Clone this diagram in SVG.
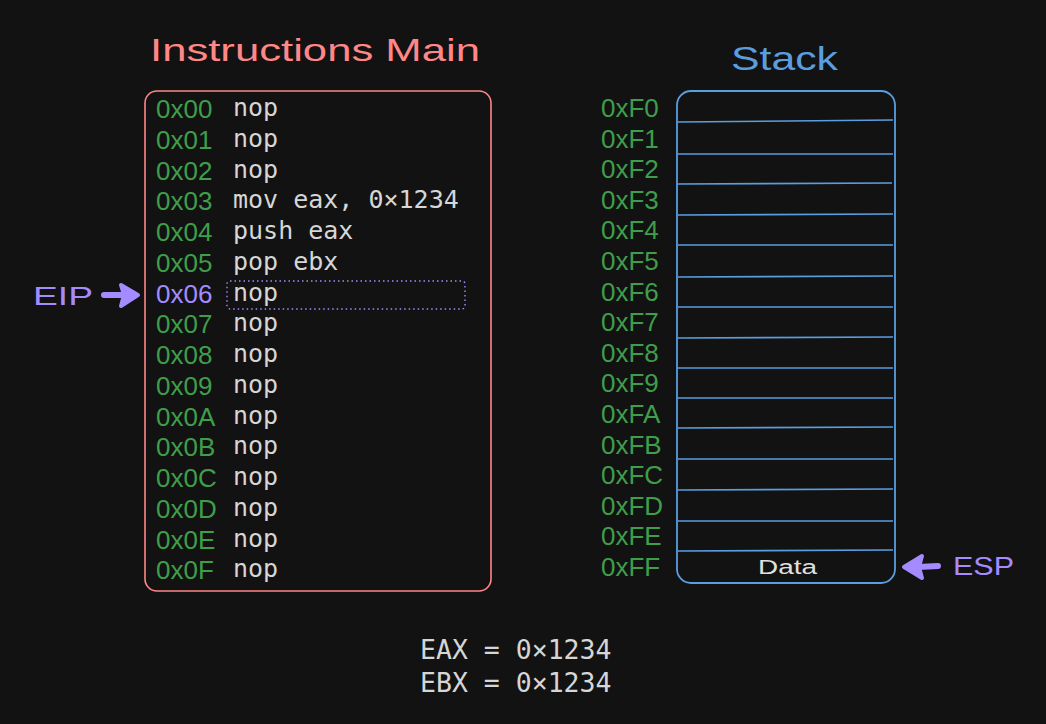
<svg xmlns="http://www.w3.org/2000/svg" width="1046" height="724" viewBox="0 0 1046 724">
<style>
.hand{font-family:"Liberation Sans","Noto Sans",sans-serif}
.mono{font-family:"DejaVu Sans Mono","Liberation Mono",monospace;fill:#d6d6d6}
.addr{font-family:"Liberation Sans","Noto Sans",sans-serif;font-size:26px;fill:#3f9e4a}
.ins{font-size:25px}
.sline{stroke:#5a9ee0;stroke-width:1.6}
.purple{fill:#a48bff}
</style>
<rect width="1046" height="724" fill="#121212"/>

<g id="title-instructions">
<text class="hand" x="150" y="61" font-size="32" fill="#ff8787" textLength="330" lengthAdjust="spacingAndGlyphs">Instructions Main</text>
</g>
<g id="title-stack">
<text class="hand" x="731" y="70" font-size="33" fill="#5a9ee0" textLength="107" lengthAdjust="spacingAndGlyphs">Stack</text>
</g>

<g id="instructions">
<rect x="145" y="91" width="346" height="500" rx="12" fill="none" stroke="#ff8787" stroke-width="1.6"/>
<rect x="227" y="281" width="238" height="28" rx="3" fill="none" stroke="#a48bff" stroke-width="1.4" stroke-dasharray="1.5 3"/>
<g class="addr">
<text x="156" y="118">0x00</text>
<text x="156" y="148.75">0x01</text>
<text x="156" y="179.5">0x02</text>
<text x="156" y="210.25">0x03</text>
<text x="156" y="241">0x04</text>
<text x="156" y="271.75">0x05</text>
<text x="156" y="302.5" fill="#a48bff">0x06</text>
<text x="156" y="333.25">0x07</text>
<text x="156" y="364">0x08</text>
<text x="156" y="394.75">0x09</text>
<text x="156" y="425.5">0x0A</text>
<text x="156" y="456.25">0x0B</text>
<text x="156" y="487">0x0C</text>
<text x="156" y="517.75">0x0D</text>
<text x="156" y="548.5">0x0E</text>
<text x="156" y="579.25">0x0F</text>
</g>
<g class="mono ins">
<text x="233" y="116">nop</text>
<text x="233" y="146.75">nop</text>
<text x="233" y="177.5">nop</text>
<text x="233" y="208.25">mov eax, 0×1234</text>
<text x="233" y="239">push eax</text>
<text x="233" y="269.75">pop ebx</text>
<text x="233" y="300.5">nop</text>
<text x="233" y="331.25">nop</text>
<text x="233" y="362">nop</text>
<text x="233" y="392.75">nop</text>
<text x="233" y="423.5">nop</text>
<text x="233" y="454.25">nop</text>
<text x="233" y="485">nop</text>
<text x="233" y="515.75">nop</text>
<text x="233" y="546.5">nop</text>
<text x="233" y="577.25">nop</text>
</g>
</g>

<g id="stack">
<rect x="677" y="91" width="218" height="492" rx="14" fill="none" stroke="#5a9ee0" stroke-width="1.8"/>
<g class="sline">
<line x1="678" y1="122" x2="893" y2="120"/>
<line x1="678" y1="154" x2="893" y2="154"/>
<line x1="678" y1="184" x2="892" y2="183"/>
<line x1="678" y1="215" x2="893" y2="214"/>
<line x1="678" y1="245" x2="893" y2="245"/>
<line x1="678" y1="277" x2="893" y2="276"/>
<line x1="678" y1="307" x2="893" y2="307"/>
<line x1="678" y1="338" x2="893" y2="337"/>
<line x1="678" y1="368" x2="893" y2="368"/>
<line x1="678" y1="398" x2="893" y2="398"/>
<line x1="678" y1="428" x2="893" y2="427"/>
<line x1="678" y1="459" x2="893" y2="459"/>
<line x1="678" y1="490" x2="893" y2="489"/>
<line x1="678" y1="521" x2="893" y2="521"/>
<line x1="678" y1="551" x2="893" y2="550"/>
</g>
<text class="hand" x="758" y="574" font-size="20" fill="#e0e0e0" textLength="59" lengthAdjust="spacingAndGlyphs">Data</text>
<g class="addr">
<text x="601" y="117">0xF0</text>
<text x="601" y="147.6">0xF1</text>
<text x="601" y="178.2">0xF2</text>
<text x="601" y="208.8">0xF3</text>
<text x="601" y="239.4">0xF4</text>
<text x="601" y="270">0xF5</text>
<text x="601" y="300.6">0xF6</text>
<text x="601" y="331.2">0xF7</text>
<text x="601" y="361.8">0xF8</text>
<text x="601" y="392.4">0xF9</text>
<text x="601" y="423">0xFA</text>
<text x="601" y="453.6">0xFB</text>
<text x="601" y="484.2">0xFC</text>
<text x="601" y="514.8">0xFD</text>
<text x="601" y="545.4">0xFE</text>
<text x="601" y="576">0xFF</text>
</g>
</g>

<g id="eip">
<text class="hand purple" x="33" y="305" font-size="26" textLength="60" lengthAdjust="spacingAndGlyphs">EIP</text>
</g>
<g id="esp">
<text class="hand purple" x="953" y="575" font-size="26" textLength="61" lengthAdjust="spacingAndGlyphs">ESP</text>
</g>

<g id="registers" class="mono" font-size="26.5">
<text x="420" y="659">EAX = 0×1234</text>
<text x="420" y="692">EBX = 0×1234</text>
</g>

<g id="connectors" fill="#a48bff" stroke="#a48bff" stroke-linejoin="round" stroke-linecap="round">
<line x1="104" y1="295" x2="124" y2="295" stroke-width="6"/>
<polygon points="138,295 121,285 124,295 121,306" stroke-width="4"/>
<line x1="938" y1="566" x2="918" y2="567" stroke-width="6"/>
<polygon points="904,567 922,556 919,567 922,578" stroke-width="4"/>
</g>
</svg>
